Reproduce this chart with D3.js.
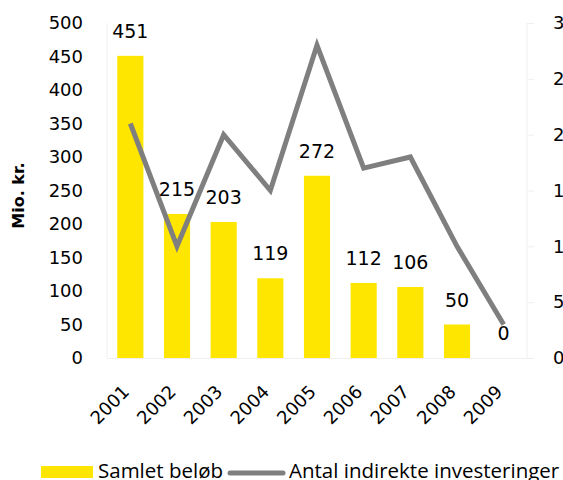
<!DOCTYPE html>
<html>
<head>
<meta charset="utf-8">
<script src="https://cdn.jsdelivr.net/npm/d3@7"></script>
<style>
  body { margin: 0; background: #fff; overflow: hidden; }
  svg text { font-family: "DejaVu Sans", Verdana, sans-serif; fill: #000; }
</style>
</head>
<body>
<div id="chart"></div>
<script>
// Data
const years = ["2001", "2002", "2003", "2004", "2005", "2006", "2007", "2008", "2009"];
const amounts = [451, 215, 203, 119, 272, 112, 106, 50, 0];       // Samlet beløb (Mio. kr.)
const investments = [21, 10, 20, 15, 28, 17, 18, 10, 3];          // Antal indirekte investeringer
const leftTicks = [0, 50, 100, 150, 200, 250, 300, 350, 400, 450, 500];
const rightTicks = [0, 5, 10, 15, 20, 25, 30];

const width = 563;
const height = 480;
const margin = { top: 23, right: 36, bottom: 122, left: 107 };

const svg = d3.select("#chart")
    .append("svg")
    .attr("width", width)
    .attr("height", height);

const x = d3.scaleBand()
    .domain(years)
    .range([margin.left, width - margin.right])
    .paddingInner(0.44)
    .paddingOuter(0.22);

const yLeft = d3.scaleLinear()
    .domain([0, 500])
    .range([height - margin.bottom, margin.top]);

const yRight = d3.scaleLinear()
    .domain([0, 30])
    .range([height - margin.bottom, margin.top]);

const frame = "#efefef";

// Faint plot frame lines
svg.append("line")
    .attr("x1", margin.left).attr("x2", margin.left)
    .attr("y1", margin.top).attr("y2", yLeft(0))
    .attr("stroke", frame);
svg.append("line")
    .attr("x1", margin.left).attr("x2", width - margin.right)
    .attr("y1", yLeft(0) + 0.5).attr("y2", yLeft(0) + 0.5)
    .attr("stroke", frame);

// Left axis
const leftAxis = svg.append("g")
    .attr("transform", `translate(${margin.left},0)`)
    .call(d3.axisLeft(yLeft).tickValues(leftTicks).tickSize(0).tickPadding(24));
leftAxis.select(".domain").remove();
leftAxis.selectAll("text")
    .style("font-size", "18px")
    .style("font-family", "'DejaVu Sans', sans-serif");

// Right axis (labels run off the picture edge like the original)
const rightAxis = svg.append("g")
    .attr("transform", `translate(${width - margin.right},0)`)
    .call(d3.axisRight(yRight).tickValues(rightTicks).tickSize(7).tickPadding(19));
rightAxis.select(".domain").attr("stroke", frame).attr("d", `M0,${yRight(30)}V${yRight(0)}`);
rightAxis.selectAll(".tick line").attr("stroke", frame);
rightAxis.selectAll("text")
    .style("font-size", "18px")
    .style("font-family", "'DejaVu Sans', sans-serif");

// Y axis title
svg.append("text")
    .attr("transform", `translate(24,${(margin.top + yLeft(0)) / 2 + 5}) rotate(-90)`)
    .attr("text-anchor", "middle")
    .style("font-size", "16px")
    .style("font-weight", "bold")
    .text("Mio. kr.");

// Bars
svg.append("g").selectAll("rect")
    .data(years)
    .join("rect")
    .attr("x", d => x(d))
    .attr("width", x.bandwidth())
    .attr("y", (d, i) => yLeft(amounts[i]))
    .attr("height", (d, i) => yLeft(0) - yLeft(amounts[i]))
    .attr("fill", "#ffe600");

// Line
const line = d3.line()
    .x((d, i) => x(years[i]) + x.bandwidth() / 2)
    .y(d => yRight(d));

svg.append("path")
    .datum(investments)
    .attr("d", line)
    .attr("fill", "none")
    .attr("stroke", "#7f7f7f")
    .attr("stroke-width", 5);

// Bar value labels
svg.append("g").selectAll("text")
    .data(years)
    .join("text")
    .attr("x", d => x(d) + x.bandwidth() / 2)
    .attr("y", (d, i) => yLeft(amounts[i]) - 18)
    .attr("text-anchor", "middle")
    .style("font-size", "19px")
    .text((d, i) => amounts[i]);

// X axis labels
svg.append("g").selectAll("text")
    .data(years)
    .join("text")
    .attr("transform", d => `translate(${x(d) + x.bandwidth() / 2},${yLeft(0) + 35}) rotate(-45)`)
    .attr("text-anchor", "end")
    .style("font-size", "18px")
    .text(d => d);

// Legend
const legend = svg.append("g").attr("transform", "translate(0,472)");
legend.append("rect")
    .attr("x", 41).attr("y", -6)
    .attr("width", 52).attr("height", 12)
    .attr("fill", "#ffe600");
legend.append("text")
    .attr("x", 98).attr("y", 6)
    .style("font-family", "'Open Sans', sans-serif")
    .style("font-size", "20.5px")
    .text("Samlet beløb");
legend.append("line")
    .attr("x1", 230).attr("x2", 283)
    .attr("y1", 1).attr("y2", 1)
    .attr("stroke", "#7f7f7f")
    .attr("stroke-width", 5)
    .attr("stroke-linecap", "round");
legend.append("text")
    .attr("x", 289).attr("y", 6)
    .style("font-family", "'Open Sans', sans-serif")
    .style("font-size", "20.5px")
    .text("Antal indirekte investeringer");
</script>
</body>
</html>
